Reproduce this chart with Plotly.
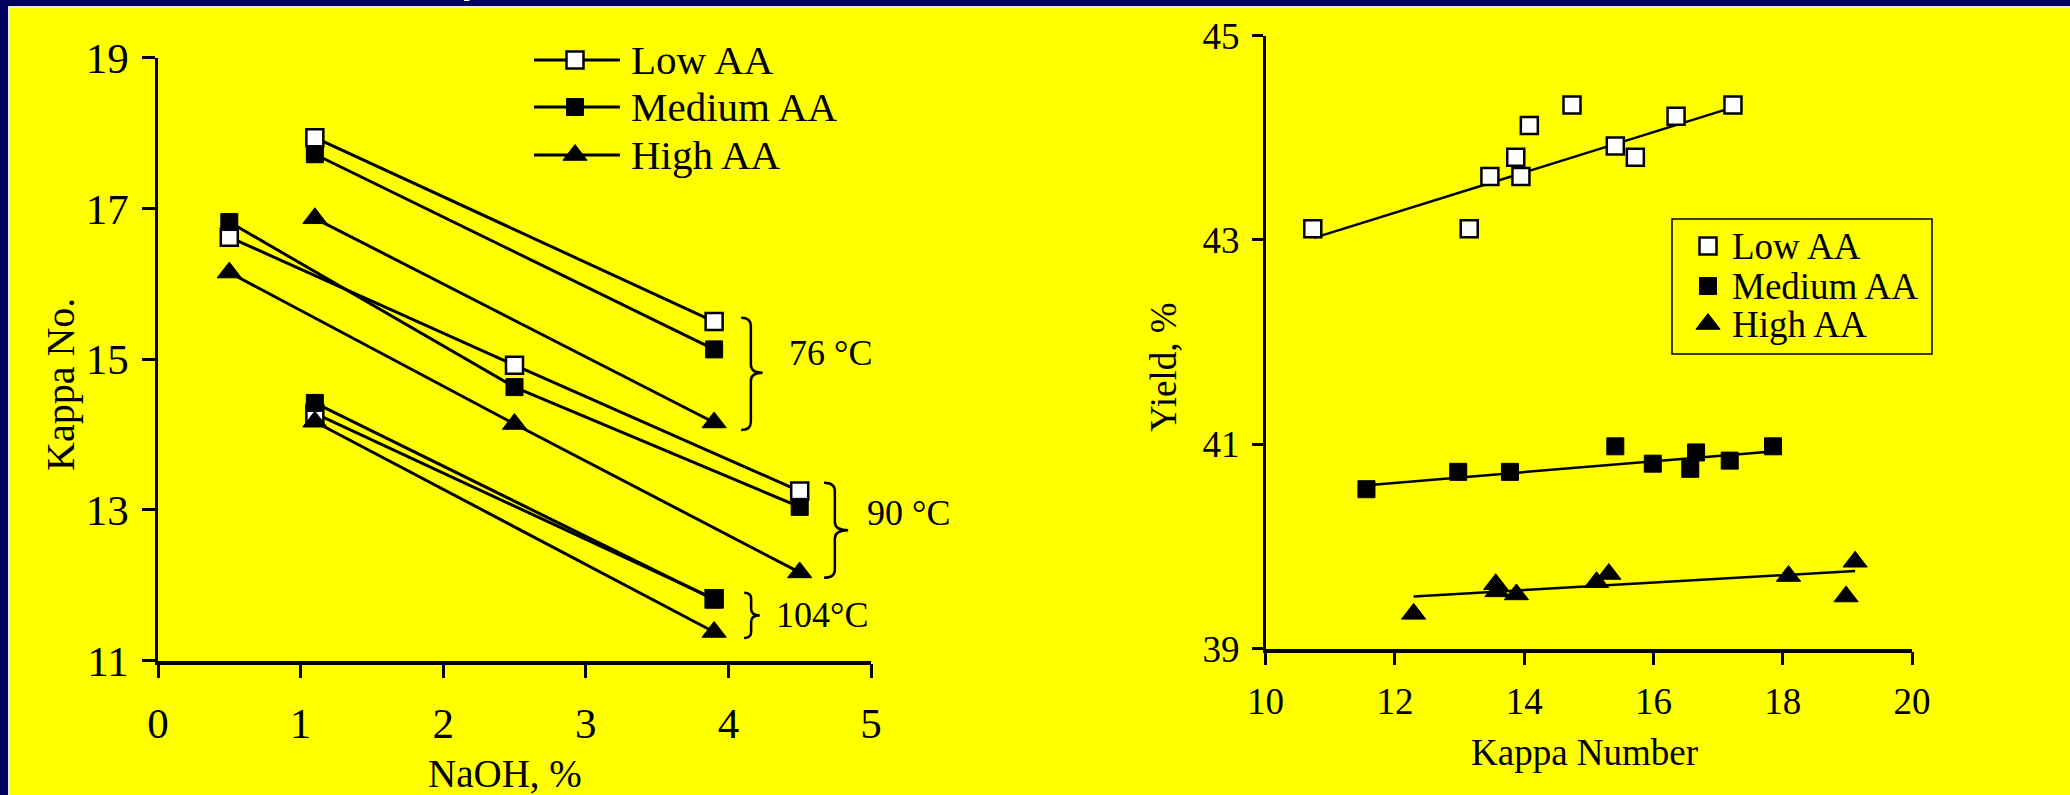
import plotly.graph_objects as go

W, H = 2070, 795

# ---------------- data : left chart (Kappa No. vs NaOH, %) ----------------
series_names = ["Low AA", "Medium AA", "High AA"]
temp_labels = ["76 °C", "90 °C", "104°C"]

naoh_76 = [1.1, 3.9]
kappa_76_low = [17.94, 15.50]
kappa_76_medium = [17.72, 15.13]
kappa_76_high = [16.87, 14.16]

naoh_90 = [0.5, 2.5, 4.5]
kappa_90_low = [16.62, 14.92, 13.25]
kappa_90_medium = [16.82, 14.63, 13.04]
kappa_90_high = [16.15, 14.14, 12.17]

naoh_104 = [1.1, 3.9]
kappa_104_low = [14.28, 11.82]
kappa_104_medium = [14.42, 11.81]
kappa_104_high = [14.17, 11.38]

left_xticks = [0, 1, 2, 3, 4, 5]
left_yticks = [11, 13, 15, 17, 19]

# ---------------- data : right chart (Yield vs Kappa Number) ----------------
kappa_low = [10.73, 13.15, 13.47, 13.87, 13.95, 14.08, 14.74, 15.41, 15.72, 16.35, 17.23]
yield_low = [43.11, 43.11, 43.62, 43.81, 43.62, 44.12, 44.32, 43.92, 43.81, 44.21, 44.32]
kappa_medium = [11.56, 12.98, 13.78, 15.41, 15.99, 16.57, 16.66, 17.18, 17.85]
yield_medium = [40.56, 40.73, 40.73, 40.98, 40.81, 40.76, 40.92, 40.84, 40.98]
kappa_high = [12.29, 13.56, 13.58, 13.88, 15.12, 15.31, 18.09, 18.98, 19.12]
yield_high = [39.34, 39.63, 39.56, 39.53, 39.65, 39.73, 39.71, 39.51, 39.85]

trend_low_x = [10.75, 17.29]
trend_low_y = [43.02, 44.31]
trend_medium_x = [11.57, 17.84]
trend_medium_y = [40.60, 40.93]
trend_high_x = [12.29, 19.12]
trend_high_y = [39.51, 39.76]

right_xticks = [10, 12, 14, 16, 18, 20]
right_yticks = [39, 41, 43, 45]

# ---------------- styles / layout constants ----------------
FONT = "Liberation Serif, 'Times New Roman', Times, serif"
NAVY = "#00005f"
YELLOW = "#ffff00"

MARK = {
    "Low AA": dict(symbol="square", size=17, color="white", line=dict(color="black", width=2.5)),
    "Medium AA": dict(symbol="square", size=17, color="black", line=dict(color="black", width=1)),
    "High AA": dict(symbol="triangle-up", size=21, color="black", line=dict(color="black", width=1)),
}

# braces: (x_open, x_tip, y_top, y_bottom, y_tip, curl, label_x, label_y)
BRACES = [
    (4.09, 4.24, 15.55, 14.06, 14.82, 0.11, 4.41, 15.08),
    (4.67, 4.84, 13.36, 12.10, 12.73, 0.11, 4.96, 12.96),
    (4.11, 4.22, 11.90, 11.30, 11.60, 0.08, 4.32, 11.60),
]

# legend geometry in page pixels
LEFT_LEG = dict(x0=534, x1=620, xm=575, xt=629, ys=[60, 107, 155], font=41)
RIGHT_LEG = dict(box=(1672, 219, 1932, 354), xm=1708, xt=1730, ys=[246, 286, 324], font=37)


def px(x):
    return x / W


def py(y):
    return 1 - y / H


fig = go.Figure()

# ---- left chart lines ----
groups = [
    (naoh_76, [kappa_76_low, kappa_76_medium, kappa_76_high]),
    (naoh_90, [kappa_90_low, kappa_90_medium, kappa_90_high]),
    (naoh_104, [kappa_104_low, kappa_104_medium, kappa_104_high]),
]
for xs, ys_list in groups:
    for name, ys in zip(series_names, ys_list):
        fig.add_trace(go.Scatter(
            x=xs, y=ys, mode="lines+markers", name=name, showlegend=False,
            line=dict(color="black", width=3), marker=MARK[name],
            xaxis="x", yaxis="y", hoverinfo="skip"))

# ---- right chart ----
for name, xs, ys, tx, ty in [
    ("Low AA", kappa_low, yield_low, trend_low_x, trend_low_y),
    ("Medium AA", kappa_medium, yield_medium, trend_medium_x, trend_medium_y),
    ("High AA", kappa_high, yield_high, trend_high_x, trend_high_y),
]:
    fig.add_trace(go.Scatter(x=tx, y=ty, mode="lines", showlegend=False,
                             line=dict(color="black", width=2.5),
                             xaxis="x2", yaxis="y2", hoverinfo="skip"))
    fig.add_trace(go.Scatter(x=xs, y=ys, mode="markers", name=name, showlegend=False,
                             marker=MARK[name], xaxis="x2", yaxis="y2", hoverinfo="skip"))

# ---- legend samples (page-pixel overlay axis) ----
annotations = []
for name, yv in zip(series_names, LEFT_LEG["ys"]):
    fig.add_trace(go.Scatter(x=[LEFT_LEG["x0"], LEFT_LEG["x1"]], y=[yv, yv], mode="lines",
                             line=dict(color="black", width=3), showlegend=False,
                             xaxis="x3", yaxis="y3", hoverinfo="skip"))
    fig.add_trace(go.Scatter(x=[LEFT_LEG["xm"]], y=[yv], mode="markers", marker=MARK[name],
                             showlegend=False, xaxis="x3", yaxis="y3", hoverinfo="skip"))
    annotations.append(dict(x=LEFT_LEG["xt"], y=yv, xref="x3", yref="y3", text=name,
                            showarrow=False, xanchor="left", yanchor="middle",
                            font=dict(family=FONT, size=LEFT_LEG["font"], color="black")))

for name, yv in zip(series_names, RIGHT_LEG["ys"]):
    fig.add_trace(go.Scatter(x=[RIGHT_LEG["xm"]], y=[yv], mode="markers", marker=MARK[name],
                             showlegend=False, xaxis="x3", yaxis="y3", hoverinfo="skip"))
    annotations.append(dict(x=RIGHT_LEG["xt"], y=yv, xref="x3", yref="y3", text=name,
                            showarrow=False, xanchor="left", yanchor="middle",
                            font=dict(family=FONT, size=RIGHT_LEG["font"], color="black")))

# ---- shapes ----
shapes = []
# slide frame
shapes.append(dict(type="rect", xref="paper", yref="paper", x0=0, x1=1, y0=py(6), y1=1,
                   fillcolor=NAVY, line=dict(width=0), layer="above"))
shapes.append(dict(type="rect", xref="paper", yref="paper", x0=0, x1=px(8), y0=0, y1=1,
                   fillcolor=NAVY, line=dict(width=0), layer="above"))
shapes.append(dict(type="rect", xref="paper", yref="paper", x0=px(8), x1=1, y0=py(8), y1=py(6),
                   fillcolor="#e8e8f4", line=dict(width=0), layer="above"))
shapes.append(dict(type="rect", xref="paper", yref="paper", x0=px(8), x1=px(10), y0=0, y1=py(6),
                   fillcolor="#e8e8f4", line=dict(width=0), layer="above"))
# right legend box
bx0, by0, bx1, by1 = RIGHT_LEG["box"]
shapes.append(dict(type="rect", xref="paper", yref="paper", x0=px(bx0), x1=px(bx1),
                   y0=py(by1), y1=py(by0), line=dict(color="black", width=1.5)))

# braces
for (x0, x1, yt, yb, ym, r, lx, ly), lab in zip(BRACES, temp_labels):
    xm = x0 + (x1 - x0) * 0.45
    path = (f"M {x0},{yt} Q {xm},{yt} {xm},{yt - r} L {xm},{ym + r} "
            f"Q {xm},{ym} {x1},{ym} Q {xm},{ym} {xm},{ym - r} "
            f"L {xm},{yb + r} Q {xm},{yb} {x0},{yb}")
    shapes.append(dict(type="path", xref="x", yref="y", path=path,
                       line=dict(color="black", width=2.5)))
    annotations.append(dict(x=lx, y=ly, xref="x", yref="y", text=lab, showarrow=False,
                            xanchor="left", yanchor="middle",
                            font=dict(family=FONT, size=36, color="black")))

# axis titles
annotations += [
    dict(x=px(60), y=py(385), xref="paper", yref="paper", text="Kappa No.", textangle=-90,
         showarrow=False, xanchor="center", yanchor="middle",
         font=dict(family=FONT, size=40, color="black")),
    dict(x=px(505), y=py(773), xref="paper", yref="paper", text="NaOH, %",
         showarrow=False, xanchor="center", yanchor="middle",
         font=dict(family=FONT, size=39, color="black")),
    dict(x=px(1163), y=py(368), xref="paper", yref="paper", text="Yield, %", textangle=-90,
         showarrow=False, xanchor="center", yanchor="middle",
         font=dict(family=FONT, size=37, color="black")),
    dict(x=px(1584), y=py(752), xref="paper", yref="paper", text="Kappa Number",
         showarrow=False, xanchor="center", yanchor="middle",
         font=dict(family=FONT, size=37, color="black")),
]

# cropped slide-title fragments at the very top
annotations += [
    dict(x=px(323), y=py(3), xref="paper", yref="paper", text="g", showarrow=False,
         xanchor="center", yanchor="bottom",
         font=dict(family="Liberation Sans, Arial, sans-serif", size=60, color="white")),
    dict(x=px(458), y=py(4), xref="paper", yref="paper", text="p", showarrow=False,
         xanchor="left", yanchor="bottom",
         font=dict(family="Liberation Sans, Arial, sans-serif", size=60, color="white")),
]


def axis(domain, rng, ticks, ticklen, lw, size, standoff, anchor):
    return dict(domain=domain, range=rng, tickvals=ticks, ticktext=[str(t) for t in ticks],
                ticks="outside", ticklen=ticklen, tickwidth=2.5, tickcolor="black",
                showline=True, linecolor="black", linewidth=lw, showgrid=False, zeroline=False,
                tickfont=dict(family=FONT, size=size, color="black"),
                ticklabelstandoff=standoff, anchor=anchor, fixedrange=True)


fig.update_layout(
    width=W, height=H,
    margin=dict(l=0, r=0, t=0, b=0, pad=0, autoexpand=False),
    paper_bgcolor=YELLOW, plot_bgcolor="rgba(0,0,0,0)",
    showlegend=False,
    xaxis=axis([px(158), px(871)], [0, 5], left_xticks, 14, 3.5, 43, 8, "y"),
    yaxis=axis([py(660.6), py(57.8)], [11, 19], left_yticks, 13, 2.5, 43, 5, "x"),
    xaxis2=axis([px(1265.6), px(1912)], [10, 20], right_xticks, 13, 3.5, 37, 4, "y2"),
    yaxis2=axis([py(648.6), py(35.6)], [39, 45], right_yticks, 11, 2.5, 37, 5, "x2"),
    xaxis3=dict(domain=[0, 1], range=[0, W], visible=False, anchor="y3", fixedrange=True),
    yaxis3=dict(domain=[0, 1], range=[H, 0], visible=False, anchor="x3", fixedrange=True),
    shapes=shapes,
    annotations=annotations,
)

fig.write_html("out.html", config={"displayModeBar": False})
